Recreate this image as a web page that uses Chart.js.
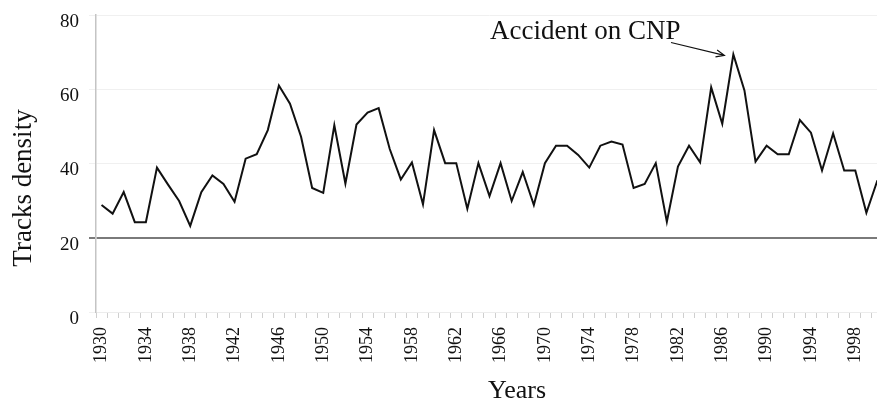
<!DOCTYPE html>
<html>
<head>
<meta charset="utf-8">
<script src="https://cdn.jsdelivr.net/npm/chart.js@4/dist/chart.umd.min.js"></script>
<style>
  html, body { margin: 0; padding: 0; background: #fff; overflow: hidden; }
  #wrap { width: 877px; height: 403px; overflow: hidden; }
  #wrap canvas { display: block; }
</style>
</head>
<body>
<div id="wrap"><canvas id="chart" width="884" height="403"></canvas></div>
<script>
/* ============================================================
   Tracks density by year, 1930-2000
   ============================================================ */

const years = [
  '1930', '1931', '1932', '1933', '1934', '1935', '1936', '1937', '1938', '1939',
  '1940', '1941', '1942', '1943', '1944', '1945', '1946', '1947', '1948', '1949',
  '1950', '1951', '1952', '1953', '1954', '1955', '1956', '1957', '1958', '1959',
  '1960', '1961', '1962', '1963', '1964', '1965', '1966', '1967', '1968', '1969',
  '1970', '1971', '1972', '1973', '1974', '1975', '1976', '1977', '1978', '1979',
  '1980', '1981', '1982', '1983', '1984', '1985', '1986', '1987', '1988', '1989',
  '1990', '1991', '1992', '1993', '1994', '1995', '1996', '1997', '1998', '1999',
  '2000',
];

const density = [
  28.8, 26.5, 32.3, 24.2, 24.2, 38.9, 34.3, 29.9, 23.2, 32.3,
  36.8, 34.5, 29.7, 41.3, 42.5, 49.0, 61.0, 56.1, 47.2, 33.4,
  32.1, 50.3, 34.6, 50.5, 53.7, 54.9, 43.9, 35.7, 40.3, 29.0,
  49.0, 40.1, 40.1, 27.8, 40.1, 31.2, 40.1, 29.9, 37.7, 28.8,
  40.1, 44.8, 44.8, 42.3, 38.9, 44.8, 45.9, 45.1, 33.4, 34.5,
  40.1, 24.3, 39.2, 44.8, 40.3, 60.5, 50.7, 69.4, 59.7, 40.5,
  44.8, 42.5, 42.5, 51.7, 48.3, 38.1, 48.1, 38.1, 38.1, 26.7,
  35.5,
];

// every 4th year gets a label
const labelledYears = ['1930', '1934', '1938', '1942', '1946', '1950', '1954', '1958',
  '1962', '1966', '1970', '1974', '1978', '1982', '1986', '1990', '1994', '1998'];

const yTicks = [0, 20, 40, 60, 80];

const annotation = { text: 'Accident on CNP', year: '1987' };

const SERIF = '"Liberation Serif", "Times New Roman", serif';

// --- titles + annotation arrow, drawn on top ---
const overlay = {
  id: 'overlay',
  afterDraw(chart) {
    const ctx = chart.ctx;
    const x = chart.scales.x;
    const y = chart.scales.y;
    ctx.save();
    ctx.fillStyle = '#111';

    // y title
    ctx.save();
    ctx.translate(31, 188);
    ctx.rotate(-Math.PI / 2);
    ctx.font = '27px ' + SERIF;
    ctx.textAlign = 'center';
    ctx.textBaseline = 'alphabetic';
    ctx.fillText('Tracks density', 0, 0);
    ctx.restore();

    // x title
    ctx.font = '26px ' + SERIF;
    ctx.textAlign = 'center';
    ctx.textBaseline = 'alphabetic';
    ctx.fillText('Years', 517, 398);

    // annotation text
    ctx.font = '27px ' + SERIF;
    ctx.textAlign = 'left';
    ctx.fillText(annotation.text, 490, 39);

    // arrow pointing at the peak
    const i = years.indexOf(annotation.year);
    const ex = x.getPixelForValue(i) - 9;
    const ey = y.getPixelForValue(density[i]) + 1;
    const sx = 671, sy = 42.5;
    ctx.strokeStyle = '#111';
    ctx.lineWidth = 1.2;
    ctx.beginPath();
    ctx.moveTo(sx, sy);
    ctx.lineTo(ex, ey);
    const a = Math.atan2(ey - sy, ex - sx);
    ctx.moveTo(ex - 9 * Math.cos(a - 0.4), ey - 9 * Math.sin(a - 0.4));
    ctx.lineTo(ex, ey);
    ctx.lineTo(ex - 9 * Math.cos(a + 0.4), ey - 9 * Math.sin(a + 0.4));
    ctx.stroke();
    ctx.restore();
  },
};

new Chart(document.getElementById('chart').getContext('2d'), {
  type: 'line',
  data: {
    labels: years,
    datasets: [{
      data: density,
      borderColor: '#111',
      borderWidth: 2,
      pointRadius: 0,
      tension: 0,
      fill: false,
    }],
  },
  options: {
    responsive: false,
    animation: false,
    layout: { padding: { left: 0, top: 15, right: 1, bottom: 0 } },
    plugins: { legend: { display: false }, tooltip: { enabled: false } },
    scales: {
      x: {
        type: 'category',
        offset: true,
        afterFit: s => {
          s.height = 91;
          s.paddingLeft = 0;
          s.paddingRight = 0;
        },
        grid: {
          offset: true,
          drawOnChartArea: false,
          drawTicks: true,
          tickLength: 6,
          color: '#cfcfcf',
        },
        border: { display: true, color: '#ececec' },
        ticks: {
          autoSkip: false,
          minRotation: 90,
          maxRotation: 90,
          padding: 9,
          color: '#111',
          font: { family: SERIF, size: 18 },
          callback(v) {
            const lab = this.getLabelForValue(v);
            return labelledYears.includes(lab) ? lab : '';
          },
        },
      },
      y: {
        min: 0,
        max: 80,
        afterFit: s => {
          s.width = 96;
          s.paddingTop = 0;
          s.paddingBottom = 0;
        },
        afterBuildTicks: s => { s.ticks = yTicks.map(v => ({ value: v })); },
        grid: {
          color: c => (c.tick && c.tick.value === 20 ? '#7a7a7a' : '#f0f0f0'),
          lineWidth: c => (c.tick && c.tick.value === 20 ? 2 : 1),
          tickLength: 7,
        },
        border: { display: true, color: '#c4c4c4', width: 1.5 },
        ticks: {
          padding: 10,
          labelOffset: 7,
          color: '#111',
          font: { family: SERIF, size: 19 },
        },
      },
    },
  },
  plugins: [overlay],
});
</script>
</body>
</html>
